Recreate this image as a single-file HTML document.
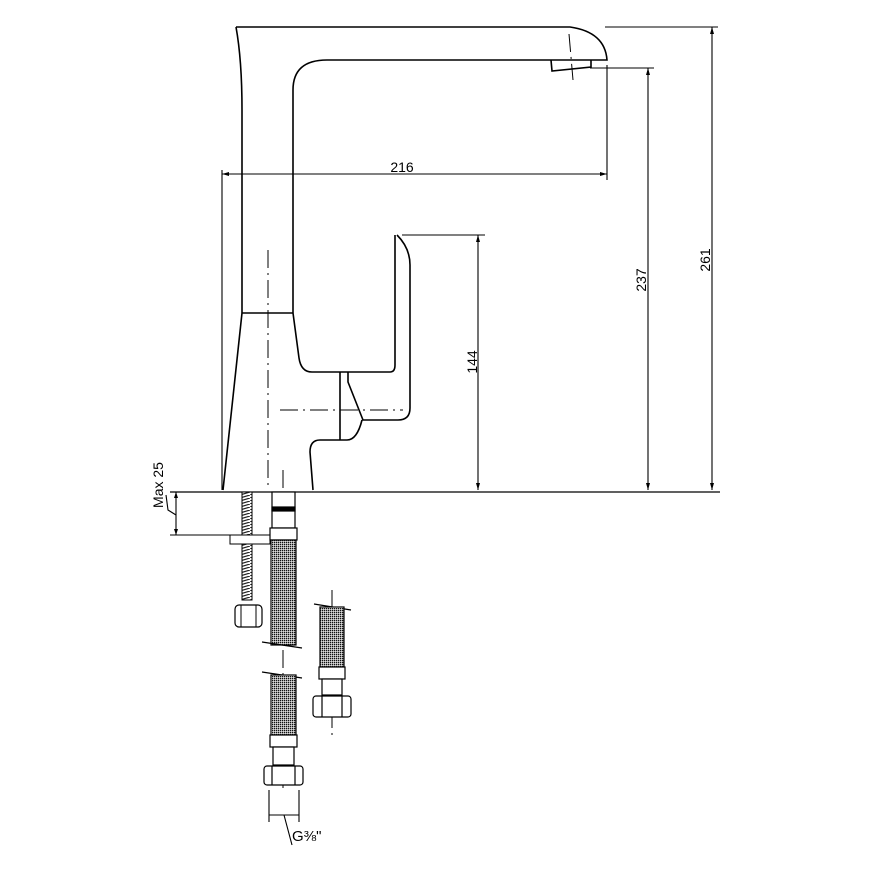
<!DOCTYPE html>
<html><head><meta charset="utf-8"><style>html,body{margin:0;padding:0;background:#fff}svg{display:block}</style></head>
<body>
<svg width="870" height="870" viewBox="0 0 870 870" xmlns="http://www.w3.org/2000/svg">
<defs>
<pattern id="mesh" width="2" height="2" patternUnits="userSpaceOnUse"><rect width="2" height="2" fill="#fff"/><rect width="1.4" height="1.4" fill="#111"/></pattern>
<pattern id="thr" width="10" height="3" patternUnits="userSpaceOnUse"><rect width="10" height="3" fill="#fff"/><line x1="0" y1="3" x2="10" y2="0" stroke="#222" stroke-width="1.2"/></pattern>
</defs>
<g fill="none" stroke="#000" stroke-width="1.6">
<path d="M236,27 Q242,60 242,110 L242,313"/>
<path d="M236,27 L570,27 Q605,32 607,60 L327,60 Q293,60 293,90 L293,313"/>
<path d="M551,60 L552,71 L591,67 L591,60"/>
<path d="M242,313 L293,313"/>
<path d="M242,313 L223,490"/>
<path d="M293,313 L299,358 Q301,372 312,372 L390,372 Q395,372 395,365 L395,235"/>
<path d="M397,235 Q410,248 410,265 L410,408 Q410,420 398,420 L363,420 L348,382 L348,372"/>
<path d="M340,372 L340,440 L347,440 M340,440 L320,440 Q310,440 310,452 L313,490"/>
<path d="M347,440 Q357,440 362,420"/>
<path d="M170,492 L720,492" stroke-width="1.3"/>
</g>
<g fill="none" stroke="#000" stroke-width="1.1">
<path d="M222,170 L222,490 M222,174 L607,174 M607,65 L607,180"/>
<path d="M402,235 L485,235 M478,235 L478,490"/>
<path d="M590,68 L654,68 M648,68 L648,490"/>
<path d="M605,27 L718,27 M712,27 L712,490"/>
<path d="M176,492 L176,535 M170,535 L232,535 M176,515 L168,510 L166,495"/>
<path d="M269,790 L269,822 M299,790 L299,822 M269,815 L299,815 M284,815 L292,845"/>
</g>
<g fill="#000">
<path d="M222,174 l7,-2 l0,4z M607,174 l-7,-2 l0,4z"/>
<path d="M478,235 l-2,7 l4,0z M478,490 l-2,-7 l4,0z"/>
<path d="M648,68 l-2,7 l4,0z M648,490 l-2,-7 l4,0z"/>
<path d="M712,27 l-2,7 l4,0z M712,490 l-2,-7 l4,0z"/>
<path d="M176,492 l-2,6 l4,0z M176,535 l-2,-6 l4,0z"/>
</g>
<g stroke="#000" stroke-width="1" stroke-dasharray="18,5,2,5" fill="none">
<path d="M268,250 L268,490"/>
<path d="M280,410 L403,410"/>
<path d="M283,470 L283,790"/>
<path d="M332,590 L332,735"/>
<path d="M569,34 L573,80"/>
</g>
<rect x="242" y="492" width="10" height="108" fill="url(#thr)" stroke="#000" stroke-width="1"/>
<rect x="230" y="535" width="40" height="9" fill="#fff" stroke="#000" stroke-width="1"/>
<rect x="235" y="605" width="27" height="22" rx="4" fill="#fff" stroke="#000" stroke-width="1.2"/>
<path d="M241,605 L241,627 M256,605 L256,627" stroke="#000"/>
<g stroke="#000" stroke-width="1.2">
<rect x="272" y="492" width="23" height="36" fill="#fff"/>
<rect x="272" y="507" width="23" height="4" fill="#000"/>
<rect x="270" y="528" width="27" height="12" fill="#fff"/>
<rect x="271" y="540" width="25" height="105" fill="url(#mesh)"/>
<path d="M262,642 L302,648 M262,672 L302,678"/>
<rect x="271" y="675" width="25" height="60" fill="url(#mesh)"/>
<rect x="270" y="735" width="27" height="12" fill="#fff"/>
<rect x="273" y="747" width="21" height="18" fill="#fff"/>
<rect x="264" y="766" width="39" height="19" rx="3" fill="#fff"/>
<path d="M272,766 L272,785 M295,766 L295,785"/>
<path d="M314,604 L351,610"/>
<rect x="320" y="607" width="24" height="60" fill="url(#mesh)"/>
<rect x="319" y="667" width="26" height="12" fill="#fff"/>
<rect x="322" y="679" width="20" height="16" fill="#fff"/>
<rect x="313" y="696" width="38" height="21" rx="3" fill="#fff"/>
<path d="M322,696 L322,717 M342,696 L342,717"/>
</g>
<g font-family="Liberation Sans, sans-serif" font-size="14" fill="#000">
<text x="402" y="172" text-anchor="middle">216</text>
<text transform="translate(477,362) rotate(-90)" text-anchor="middle">144</text>
<text transform="translate(646,280) rotate(-90)" text-anchor="middle">237</text>
<text transform="translate(710,260) rotate(-90)" text-anchor="middle">261</text>
<text transform="translate(163,485) rotate(-90)" text-anchor="middle">Max 25</text>
<text x="292" y="841" font-size="15">G⅜"</text>
</g>
</svg>
</body></html>
